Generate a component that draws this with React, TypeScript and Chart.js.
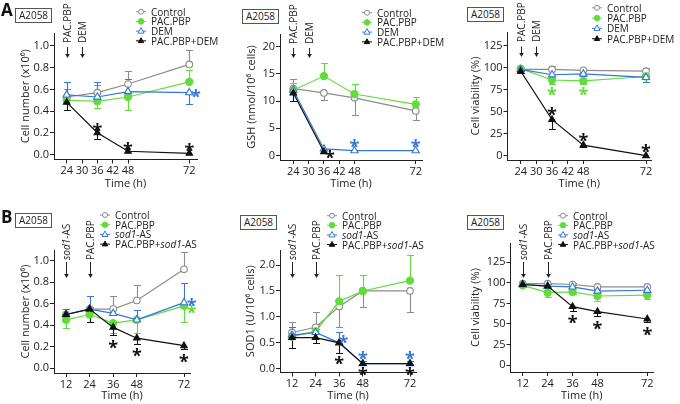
import React, { useEffect, useRef } from "react";
import { Chart, registerables } from "chart.js";
Chart.register(...registerables);

const FONT = '"Open Sans", "DejaVu Sans", sans-serif';
const INK = "#222222";
const GREY = "#8c8c8c";
const GREEN = "#62dc3c";
const BLUE = "#3476d6";
const BLACK = "#111111";

// ---------------- data ----------------
const timesA = [24, 36, 48, 72];
const timesB = [12, 24, 36, 48, 72];
const xTicksA = [24, 30, 36, 42, 48, 72];
const xTicksB = [12, 24, 36, 48, 72];

const yTicksCells = [0, 0.2, 0.4, 0.6, 0.8, 1.0];
const yTicksGSH = [0, 5, 10, 15, 20];
const yTicksViab = [0, 25, 50, 75, 100, 125];
const yTicksSOD = [0, 0.5, 1.0, 1.5, 2.0];

const legendA = ["Control", "PAC.PBP", "DEM", "PAC.PBP+DEM"];

// A - cell number
const a1Control = [0.53, 0.57, 0.65, 0.83];
const a1ControlErr = [0.07, 0.07, 0.12, 0.13];
const a1Pac = [0.5, 0.49, 0.53, 0.67];
const a1PacErr = [-0.09, -0.06, -0.12, 0.11];
const a1Dem = [0.55, 0.53, 0.58, 0.57];
const a1DemErr = [0.12, 0.14, 0.12, -0.1];
const a1Combo = [0.48, 0.2, 0.03, 0.01];
const a1ComboErr = [-0.07, -0.06, 0, 0];
const a1Stars = [[36, 0.26, "k"], [48, 0.08, "k"], [72, 0.07, "k"], [74.6, 0.57, "b"]];

// A - GSH
const a2Control = [12.3, 11.5, 10.6, 8.2];
const a2ControlErr = [1.8, -1.3, -3.2, -1.7];
const a2Pac = [12.0, 14.6, 11.3, 9.4];
const a2PacErr = [1.4, 2.4, 1.9, 1.4];
const a2Dem = [12.0, 1.2, 0.9, 0.9];
const a2DemErr = [-2.0, 0, 0, 0];
const a2Combo = [11.5, 0.7, null, null];
const a2ComboErr = [-1.5, 0, 0, 0];
const a2Stars = [[38.4, 0.4, "k"], [48, 2.3, "b"], [72, 2.3, "b"]];

// A - viability
const a3Control = [98, 98, 97, 96];
const a3ControlErr = [2, 4, 3, 4];
const a3Pac = [99, 86, 85, 90];
const a3PacErr = [-2, -5, -4, -3];
const a3Dem = [98, 92, 93, 89];
const a3DemErr = [-2, -2, -2, -5];
const a3Combo = [96, 41, 12, 0];
const a3ComboErr = [-2, -11, -2, 0];
const a3Stars = [[36, 74, "g"], [48, 74, "g"], [36, 51, "k"], [48, 22, "k"], [72, 9, "k"]];

// B - cell number
const b1Control = [0.5, 0.55, 0.55, 0.63, 0.92];
const b1ControlErr = [0.05, 0.02, 0.12, 0.14, 0.16];
const b1Pac = [0.45, 0.5, 0.42, 0.45, 0.58];
const b1PacErr = [-0.08, -0.07, -0.09, -0.12, -0.15];
const b1Sod = [0.5, 0.55, 0.51, 0.45, 0.61];
const b1SodErr = [0.05, 0.12, 0.05, 0.09, 0.18];
const b1Combo = [0.5, 0.55, 0.38, 0.28, 0.21];
const b1ComboErr = [-0.05, -0.12, -0.07, -0.05, -0.03];
const b1Stars = [[36, 0.23, "k"], [48, 0.16, "k"], [72, 0.1, "k"], [75.9, 0.62, "b"], [75.9, 0.56, "g"]];

// B - SOD1
const b2Control = [0.7, 0.8, 1.2, 1.5, 1.5];
const b2ControlErr = [0.2, 0.3, -0.4, -0.3, -0.4];
const b2Pac = [0.62, 0.72, 1.3, 1.5, 1.7];
const b2PacErr = [0.08, 0.05, 0.5, 0.3, 0.5];
const b2Sod = [0.65, 0.7, 0.5, 0.1, 0.1];
const b2SodErr = [0.15, 0.17, 0.2, 0.05, 0.05];
const b2Combo = [0.6, 0.6, 0.5, 0.1, 0.1];
const b2ComboErr = [-0.2, -0.1, -0.2, -0.03, -0.03];
const b2Stars = [[38.1, 0.59, "b"], [36, 0.18, "k"], [48, 0.27, "b"], [48, -0.03, "k"], [72, 0.27, "b"], [72, -0.03, "k"]];

// B - viability
const b3Control = [99, 99, 98, 95, 95];
const b3ControlErr = [1, 1, 2, 2, 2];
const b3Pac = [97, 88, 89, 84, 85];
const b3PacErr = [-2, -5, -3, -6, -5];
const b3Sod = [98, 96, 95, 90, 91];
const b3SodErr = [1, 2, 2, 3, 3];
const b3Combo = [98, 96, 71, 65, 56];
const b3ComboErr = [-1, -2, -5, -5, -4];
const b3Stars = [[36, 56, "k"], [48, 49, "k"], [72, 42, "k"]];

// ---------------- styles / layout ----------------
const STYLES = [
  { color: GREY, fill: "#ffffff", shape: "circle", r: 3.3, order: 4 },
  { color: GREEN, fill: GREEN, shape: "circle", r: 3.6, order: 3 },
  { color: BLUE, fill: "#ffffff", shape: "triangle", r: 4.2, order: 2 },
  { color: BLACK, fill: BLACK, shape: "triangle", r: 3.8, order: 1 },
];
const STAR_COLORS: Record<string, string> = { k: BLACK, b: BLUE, g: GREEN };

type Layout = {
  tcx: number; ax: number; at: number; ar: number; ay: number; tcy: number;
  xp: [number, number]; yp: [number, number];
};

const sod = (pre: string) => (
  <span>{pre}<i>sod1</i>-AS</span>
);

const panels: any[] = [
  {
    letter: "A", times: timesA, xTicks: xTicksA, yTicks: yTicksCells, yDec: 1,
    yTitle: "Cell number (x10⁶)",
    series: [[a1Control, a1ControlErr], [a1Pac, a1PacErr], [a1Dem, a1DemErr], [a1Combo, a1ComboErr]],
    stars: a1Stars,
    layout: { tcx: 26, ax: 54, at: 33, ar: 197, ay: 159.5, tcy: 183.5, xp: [66.7, 189.3], yp: [154.5, 46] },
    box: [15, 8], legend: { mx: 136, y0: 11.7, dy: 9.7, labels: legendA },
    arrows: [{ x: 24, text: "PAC.PBP" }, { x: 30, text: "DEM" }], arrowText: 43, arrowA: 47, arrowB: 58,
  },
  {
    letter: "", times: timesA, xTicks: xTicksA, yTicks: yTicksGSH, yDec: 0,
    yTitle: "GSH (nmol/10⁶ cells)",
    series: [[a2Control, a2ControlErr], [a2Pac, a2PacErr], [a2Dem, a2DemErr], [a2Combo, a2ComboErr]],
    stars: a2Stars,
    layout: { tcx: 252, ax: 280, at: 34, ar: 422, ay: 160, tcy: 183.5, xp: [293.3, 415.7], yp: [155.5, 46.7] },
    box: [242, 9], legend: { mx: 362, y0: 12.7, dy: 9.7, labels: legendA },
    arrows: [{ x: 24, text: "PAC.PBP" }, { x: 30, text: "DEM" }], arrowText: 44, arrowA: 48, arrowB: 58,
  },
  {
    letter: "", times: timesA, xTicks: xTicksA, yTicks: yTicksViab, yDec: 0,
    yTitle: "Cell viability (%)",
    series: [[a3Control, a3ControlErr], [a3Pac, a3PacErr], [a3Dem, a3DemErr], [a3Combo, a3ComboErr]],
    stars: a3Stars,
    layout: { tcx: 476, ax: 507.5, at: 32, ar: 651, ay: 160, tcy: 183.5, xp: [520.7, 646], yp: [155.7, 45.7] },
    box: [467, 7], legend: { mx: 592, y0: 7.8, dy: 10.3, labels: legendA },
    arrows: [{ x: 24, text: "PAC.PBP" }, { x: 30, text: "DEM" }], arrowText: 42, arrowA: 46.5, arrowB: 57,
  },
  {
    letter: "B", times: timesB, xTicks: xTicksB, yTicks: yTicksCells, yDec: 1,
    yTitle: "Cell number (x10⁶)",
    series: [[b1Control, b1ControlErr], [b1Pac, b1PacErr], [b1Sod, b1SodErr], [b1Combo, b1ComboErr]],
    stars: b1Stars,
    layout: { tcx: 26, ax: 54, at: 250, ar: 190, ay: 373, tcy: 395, xp: [66, 184], yp: [368.3, 260.7] },
    box: [15, 213], legend: { mx: 100, y0: 215, dy: 9.7, labels: ["Control", "PAC.PBP", sod(""), sod("PAC.PBP+")] },
    arrows: [{ x: 12, text: sod("") }, { x: 24, text: "PAC.PBP" }], arrowText: 260, arrowA: 262, arrowB: 278,
  },
  {
    letter: "", times: timesB, xTicks: xTicksB, yTicks: yTicksSOD, yDec: 1,
    yTitle: "SOD1 (U/10⁶ cells)",
    series: [[b2Control, b2ControlErr], [b2Pac, b2PacErr], [b2Sod, b2SodErr], [b2Combo, b2ComboErr]],
    stars: b2Stars,
    layout: { tcx: 251, ax: 280, at: 250, ar: 416, ay: 372.5, tcy: 395, xp: [292, 410], yp: [368.8, 265] },
    box: [240, 215], legend: { mx: 327, y0: 215.7, dy: 9.6, labels: ["Control", "PAC.PBP", sod(""), sod("PAC.PBP+")] },
    arrows: [{ x: 12, text: sod("") }, { x: 24, text: "PAC.PBP" }], arrowText: 260, arrowA: 262, arrowB: 278,
  },
  {
    letter: "", times: timesB, xTicks: xTicksB, yTicks: yTicksViab, yDec: 0,
    yTitle: "Cell viability (%)",
    series: [[b3Control, b3ControlErr], [b3Pac, b3PacErr], [b3Sod, b3SodErr], [b3Combo, b3ComboErr]],
    stars: b3Stars,
    layout: { tcx: 476, ax: 510.5, at: 243, ar: 653, ay: 372, tcy: 395, xp: [522.7, 647.3], yp: [365, 262.3] },
    box: [467, 215], legend: { mx: 558, y0: 215.7, dy: 9.6, labels: ["Control", "PAC.PBP", sod(""), sod("PAC.PBP+")] },
    arrows: [{ x: 12, text: sod("") }, { x: 24, text: "PAC.PBP" }], arrowText: 260, arrowA: 262, arrowB: 278,
  },
];

function geom(p: any) {
  const L: Layout = p.layout;
  const xt0 = p.xTicks[0], xt1 = p.xTicks[p.xTicks.length - 1];
  const xk = (L.xp[1] - L.xp[0]) / (xt1 - xt0);
  const yt0 = p.yTicks[0], yt1 = p.yTicks[p.yTicks.length - 1];
  const yk = (L.yp[0] - L.yp[1]) / (yt1 - yt0);
  return {
    xmin: xt0 - (L.xp[0] - L.ax) / xk,
    xmax: xt1 + (L.ar - L.xp[1]) / xk,
    ymin: yt0 - (L.ay - L.yp[0]) / yk,
    ymax: yt1 + (L.yp[1] - L.at) / yk,
    px: (v: number) => L.xp[0] + (v - xt0) * xk,
  };
}

const errorBars = {
  id: "errorBars",
  beforeDatasetsDraw(chart: any) {
    const { ctx } = chart;
    const xs = chart.scales.x, ys = chart.scales.y;
    chart.data.datasets.forEach((ds: any) => {
      if (!ds.errs) return;
      ctx.save();
      ctx.strokeStyle = ds.borderColor;
      ctx.lineWidth = 1.1;
      ds.data.forEach((pt: any, i: number) => {
        const e = ds.errs[i];
        if (!e || pt.y == null) return;
        const x = Math.round(xs.getPixelForValue(pt.x)) + 0.5;
        const y0 = ys.getPixelForValue(pt.y);
        const y1 = Math.round(ys.getPixelForValue(pt.y + e)) + 0.5;
        ctx.beginPath();
        ctx.moveTo(x, y0);
        ctx.lineTo(x, y1);
        ctx.moveTo(x - 3.5, y1);
        ctx.lineTo(x + 3.5, y1);
        ctx.stroke();
      });
      ctx.restore();
    });
  },
};

function PanelChart({ p }: { p: any }) {
  const ref = useRef<HTMLCanvasElement>(null);
  const L: Layout = p.layout;
  const cl = Math.round(L.tcx - 6.6);
  const ct = Math.round(L.at - 14);
  const W = Math.round(L.ar + 22 - cl);
  const H = Math.round(L.tcy + 6.6 - ct);
  useEffect(() => {
    const g = geom(p);
    const starPlugin = {
      id: "stars",
      afterDatasetsDraw(chart: any) {
        const { ctx } = chart;
        ctx.save();
        ctx.font = `700 18px ${FONT}`;
        ctx.textAlign = "center";
        ctx.textBaseline = "alphabetic";
        p.stars.forEach((s: any) => {
          ctx.fillStyle = STAR_COLORS[s[2]];
          const x = chart.scales.x.getPixelForValue(s[0]);
          const y = chart.scales.y.getPixelForValue(s[1]);
          ctx.fillText("*", x, y + 10.5);
        });
        ctx.restore();
      },
    };
    const tickFont = { family: FONT, size: 11 };
    const chart = new Chart(ref.current as HTMLCanvasElement, {
      type: "line",
      data: {
        datasets: p.series.map((s: any, i: number) => {
          const st = STYLES[i];
          return {
            data: p.times.map((t: number, j: number) => ({ x: t, y: s[0][j] })),
            errs: s[1],
            borderColor: st.color,
            backgroundColor: st.fill,
            borderWidth: 1.2,
            pointStyle: st.shape,
            pointRadius: st.r,
            pointBorderWidth: 1.1,
            pointBackgroundColor: st.fill,
            pointBorderColor: st.color,
            order: st.order,
            tension: 0,
            spanGaps: false,
          } as any;
        }),
      },
      options: {
        responsive: false,
        animation: false,
        devicePixelRatio: 1,
        events: [],
        layout: { padding: { left: 0, top: L.at - ct, right: cl + W - L.ar, bottom: 0 } },
        plugins: { legend: { display: false }, tooltip: { enabled: false } },
        scales: {
          x: {
            type: "linear",
            min: g.xmin,
            max: g.xmax,
            afterBuildTicks: (s: any) => { s.ticks = p.xTicks.map((v: number) => ({ value: v })); },
            afterFit: (s: any) => { s.height = ct + H - L.ay; },
            grid: { display: true, drawOnChartArea: false, drawTicks: true, tickLength: 4, color: INK, tickColor: INK, lineWidth: 1 },
            border: { display: true, color: INK, width: 1 },
            ticks: { font: tickFont, color: INK, padding: 1, maxRotation: 0, autoSkip: false, callback: (v: any) => String(v) },
            title: { display: true, text: "Time (h)", font: tickFont, color: INK, padding: 0 },
          },
          y: {
            type: "linear",
            min: g.ymin,
            max: g.ymax,
            afterBuildTicks: (s: any) => { s.ticks = p.yTicks.map((v: number) => ({ value: v })); },
            afterFit: (s: any) => { s.width = L.ax - cl; },
            grid: { display: true, drawOnChartArea: false, drawTicks: true, tickLength: 4, color: INK, tickColor: INK, lineWidth: 1 },
            border: { display: true, color: INK, width: 1 },
            ticks: { font: tickFont, color: INK, padding: 1, callback: (v: any) => Number(v).toFixed(p.yDec) },
            title: { display: true, text: p.yTitle, font: tickFont, color: INK, padding: 0 },
          },
        },
      } as any,
      plugins: [errorBars, starPlugin],
    });
    return () => chart.destroy();
  }, []);
  return (
    <canvas
      ref={ref}
      width={W}
      height={H}
      style={{ position: "absolute", left: cl, top: ct, width: W, height: H }}
    />
  );
}

function Overlay({ p }: { p: any }) {
  const g = geom(p);
  const items: any[] = [];
  if (p.letter) {
    items.push(
      <div key="letter" style={{ position: "absolute", left: 1, top: p.layout.at < 100 ? 1 : 208, font: `700 17px ${FONT}`, lineHeight: "17px", color: "#111" }}>
        {p.letter}
      </div>
    );
  }
  items.push(
    <div key="box" style={{ position: "absolute", left: p.box[0], top: p.box[1], width: 37, height: 15, border: "1px solid #555", boxSizing: "border-box", font: `10px ${FONT}`, lineHeight: "13px", textAlign: "center", color: INK, background: "#fff" }}>
      A2058
    </div>
  );
  p.legend.labels.forEach((lab: any, i: number) => {
    items.push(
      <div key={"lg" + i} style={{ position: "absolute", left: p.legend.mx + 15, top: p.legend.y0 + i * p.legend.dy - 7, font: `10px ${FONT}`, lineHeight: "14px", color: INK, whiteSpace: "nowrap" }}>
        {lab}
      </div>
    );
  });
  p.arrows.forEach((a: any, i: number) => {
    const x = g.px(a.x);
    items.push(
      <div key={"ar" + i} style={{ position: "absolute", left: x - 6, top: p.arrowText, transform: "rotate(-90deg)", transformOrigin: "0 0", font: `10px ${FONT}`, lineHeight: "12px", height: 12, color: INK, whiteSpace: "nowrap" }}>
        {a.text}
      </div>
    );
  });
  return <>{items}</>;
}

function Marker({ st, cx, cy }: { st: any; cx: number; cy: number }) {
  if (st.shape === "circle") {
    return <circle cx={cx} cy={cy} r={st.r - 0.8} fill={st.fill} stroke={st.color} strokeWidth={1} />;
  }
  const r = st.r - 0.8;
  const pts = `${cx},${cy - r} ${cx - r * 0.9},${cy + r * 0.6} ${cx + r * 0.9},${cy + r * 0.6}`;
  return <polygon points={pts} fill={st.fill} stroke={st.color} strokeWidth={1} />;
}

function SvgLayer() {
  const els: any[] = [];
  panels.forEach((p, pi) => {
    const g = geom(p);
    p.legend.labels.forEach((_: any, i: number) => {
      const st = STYLES[i];
      const cy = p.legend.y0 + i * p.legend.dy;
      els.push(<line key={`l${pi}-${i}`} x1={p.legend.mx} x2={p.legend.mx + 10} y1={cy} y2={cy} stroke={st.color} strokeWidth={1} />);
      els.push(<Marker key={`m${pi}-${i}`} st={st} cx={p.legend.mx + 5} cy={cy} />);
    });
    p.arrows.forEach((a: any, i: number) => {
      const x = Math.round(g.px(a.x)) + 0.5;
      els.push(<line key={`a${pi}-${i}`} x1={x} x2={x} y1={p.arrowA} y2={p.arrowB - 2} stroke={INK} strokeWidth={1} />);
      els.push(<polygon key={`h${pi}-${i}`} points={`${x - 2.3},${p.arrowB - 4} ${x + 2.3},${p.arrowB - 4} ${x},${p.arrowB}`} fill={INK} />);
    });
  });
  return (
    <svg width={680} height={404} style={{ position: "absolute", left: 0, top: 0, pointerEvents: "none" }}>
      {els}
    </svg>
  );
}

export default function App() {
  return (
    <div style={{ position: "absolute", left: 0, top: 0, width: 680, height: 404, background: "#fff", overflow: "hidden", fontFamily: FONT }}>
      {panels.map((p, i) => (
        <PanelChart key={"c" + i} p={p} />
      ))}
      <SvgLayer />
      {panels.map((p, i) => (
        <Overlay key={"o" + i} p={p} />
      ))}
    </div>
  );
}
